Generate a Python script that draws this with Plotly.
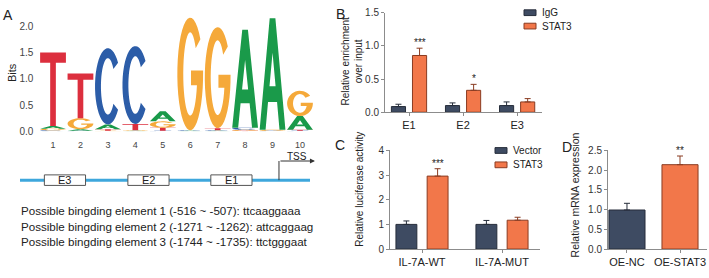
import numpy as np
import plotly.graph_objects as go

W, H = 709, 278
FONT = "Arial, Liberation Sans, sans-serif"

# ---------------- data ----------------
# Panel A: sequence logo (information content, bits) per position
logo_pos = [1, 2, 3, 4, 5, 6, 7, 8, 9, 10]
bits_A = [0.05, 0.03, 0.09, 0.01, 0.19, 0.01, 0.01, 1.86, 2.12, 0.26]
bits_C = [0.02, 0.01, 1.45, 1.48, 0.01, 0.01, 0.01, 0.04, 0.01, 0.01]
bits_G = [0.03, 0.21, 0.01, 0.01, 0.12, 2.14, 1.92, 0.02, 0.02, 0.48]
bits_T = [1.40, 0.85, 0.03, 0.12, 0.06, 0.00, 0.04, 0.01, 0.00, 0.02]
bits_ticks = [0.0, 0.5, 1.0, 1.5, 2.0]

# Panel A: promoter schematic (schematic units along the promoter line)
promoter_span = [0, 10]
promoter_elements = ["E3", "E2", "E1"]
promoter_element_pos = [1.55, 4.43, 7.29]
tss_pos = 8.93
site_no = [1, 2, 3]
site_start = [-516, -1271, -1744]
site_end = [-507, -1262, -1735]
site_seq = ["ttcaaggaaa", "attcaggaag", "ttctgggaat"]

# Panel B: ChIP
chip_regions = ["E1", "E2", "E3"]
chip_igg = [0.085, 0.10, 0.10]
chip_igg_err = [0.035, 0.04, 0.055]
chip_stat3 = [0.855, 0.33, 0.155]
chip_stat3_err = [0.11, 0.09, 0.05]
chip_sig = ["***", "*", ""]

# Panel C: luciferase
luc_groups = ["IL-7A-WT", "IL-7A-MUT"]
luc_vector = [1.0, 1.0]
luc_vector_err = [0.14, 0.16]
luc_stat3 = [2.96, 1.17]
luc_stat3_err = [0.30, 0.12]
luc_sig = ["***", ""]

# Panel D: mRNA
mrna_groups = ["OE-NC", "OE-STAT3"]
mrna_values = [0.99, 2.14]
mrna_err = [0.17, 0.22]
mrna_sig = ["", "**"]

# ---------------- styles ----------------
NAVY, NAVY_EDGE = "#3e4b62", "#262d3a"
ORANGE, ORANGE_EDGE = "#f2774a", "#8a3c22"
LETTER_COLORS = {"A": "#1a9a4a", "C": "#2c5da8", "G": "#f5a93a", "T": "#dc2f3e"}
BARGAP, GROUPGAP = 0.22, 0.33


def dom_x(a, b):
    return [a / W, b / W]


def dom_y(top, bottom):
    return [1 - bottom / H, 1 - top / H]


def px(xp, yp):
    return xp / W, 1 - yp / H


# ---------------- glyphs for the logo ----------------
def ell(rx, ry, a0, a1, n=36):
    t = np.radians(np.linspace(a0, a1, n))
    return list(zip(0.5 + rx * np.cos(t), 0.5 + ry * np.sin(t)))


def glyph(letter):
    if letter == "T":
        return [[(0, 1), (1, 1), (1, 0.86), (0.61, 0.86), (0.61, 0), (0.39, 0),
                 (0.39, 0.86), (0, 0.86)]]
    if letter == "A":
        return [[(0, 0), (0.39, 1), (0.61, 1), (1, 0), (0.77, 0), (0.675, 0.25),
                 (0.325, 0.25), (0.23, 0)],
                [(0.382, 0.39), (0.618, 0.39), (0.5, 0.69)]]
    if letter == "C":
        return [ell(0.5, 0.5, 38, 322) + ell(0.27, 0.37, 322, 38)]
    # G
    return [ell(0.5, 0.5, 38, 355) + [(1.0, 0.53), (0.53, 0.53), (0.53, 0.40)]
            + ell(0.27, 0.37, 344.3, 38)]


def letter_path(letter, pos, base, h, width=0.94):
    parts = []
    for poly in glyph(letter):
        pts = [(pos - width / 2 + u * width, base + v * h) for u, v in poly]
        parts.append("M" + " L".join(f"{x:.4f},{y:.5f}" for x, y in pts) + " Z")
    return " ".join(parts)


shapes = []
annotations = []

bits = {"A": bits_A, "C": bits_C, "G": bits_G, "T": bits_T}
for i, pos in enumerate(logo_pos):
    stack = sorted(((bits[L][i], L) for L in "ACGT"), key=lambda t: t[0])
    base = 0.0
    for h, L in stack:
        if h <= 0:
            continue
        shapes.append(dict(type="path", path=letter_path(L, pos, base, h),
                           xref="x", yref="y", fillcolor=LETTER_COLORS[L],
                           line=dict(width=0), layer="above"))
        base += h

# ---------------- promoter schematic ----------------
shapes.append(dict(type="line", xref="x2", yref="y2", x0=promoter_span[0], x1=promoter_span[1],
                   y0=0, y1=0, line=dict(color="#3ea7dc", width=3), layer="below"))
BOX_W, BOX_H = 1.42, 0.55
for name, c in zip(promoter_elements, promoter_element_pos):
    shapes.append(dict(type="rect", xref="x2", yref="y2", x0=c - BOX_W / 2, x1=c + BOX_W / 2,
                       y0=-BOX_H, y1=BOX_H, fillcolor="white",
                       line=dict(color="#555", width=1), layer="above"))
    annotations.append(dict(x=c, y=0, xref="x2", yref="y2", text=name, showarrow=False,
                            font=dict(size=11, color="#222", family=FONT)))
shapes.append(dict(type="line", xref="x2", yref="y2", x0=tss_pos, x1=tss_pos, y0=0, y1=2.0,
                   line=dict(color="#333", width=1)))
annotations.append(dict(x=promoter_span[1] + 0.17, y=2.0, ax=tss_pos, ay=2.0, xref="x2", yref="y2",
                        axref="x2", ayref="y2", text="", showarrow=True, arrowhead=2,
                        arrowsize=1, arrowwidth=1, arrowcolor="#333"))
annotations.append(dict(x=(tss_pos + promoter_span[1] + 0.17) / 2, y=2.0, xref="x2", yref="y2",
                        text="TSS", showarrow=False, yanchor="bottom", yshift=-3,
                        font=dict(size=10, color="#222", family=FONT)))

for k, (n, s, e, q) in enumerate(zip(site_no, site_start, site_end, site_seq)):
    xx, yy = px(19, 214 + 16 * k)
    annotations.append(dict(x=xx, y=yy, xref="paper", yref="paper", xanchor="left",
                            yanchor="middle", showarrow=False,
                            text=f"Possible bingding element {n} ({s} ~ {e}): {q}",
                            font=dict(size=11.6, color="#222", family=FONT)))

# ---------------- bar traces ----------------
def err(e):
    return dict(type="data", array=e, arrayminus=[0] * len(e), symmetric=False,
                thickness=1, width=3)


traces = [
    go.Bar(x=chip_regions, y=chip_igg, xaxis="x3", yaxis="y3", name="IgG",
           marker=dict(color=NAVY, line=dict(color=NAVY_EDGE, width=1)),
           error_y={**err(chip_igg_err), "color": NAVY_EDGE}, showlegend=False),
    go.Bar(x=chip_regions, y=chip_stat3, xaxis="x3", yaxis="y3", name="STAT3",
           marker=dict(color=ORANGE, line=dict(color=ORANGE_EDGE, width=1)),
           error_y={**err(chip_stat3_err), "color": ORANGE_EDGE}, showlegend=False),
    go.Bar(x=luc_groups, y=luc_vector, xaxis="x4", yaxis="y4", name="Vector",
           marker=dict(color=NAVY, line=dict(color=NAVY_EDGE, width=1)),
           error_y={**err(luc_vector_err), "color": NAVY_EDGE}, showlegend=False),
    go.Bar(x=luc_groups, y=luc_stat3, xaxis="x4", yaxis="y4", name="STAT3",
           marker=dict(color=ORANGE, line=dict(color=ORANGE_EDGE, width=1)),
           error_y={**err(luc_stat3_err), "color": ORANGE_EDGE}, showlegend=False),
]
for i, (fill, edge) in enumerate([(NAVY, NAVY_EDGE), (ORANGE, ORANGE_EDGE)]):
    traces.append(go.Bar(x=[mrna_groups[i]], y=[mrna_values[i]], xaxis="x5", yaxis="y5",
                         width=0.68, offset=-0.34,
                         marker=dict(color=fill, line=dict(color=edge, width=1)),
                         error_y={**err([mrna_err[i]]), "color": edge}, showlegend=False))

# ---------------- axes ----------------
AX_B = dict(x=(385, 542), y=(7, 111), xr=[-0.444, 2.46], yr=[0, 1.5])
AX_C = dict(x=(390, 540), y=(151, 254), xr=[-0.4, 1.475], yr=[0, 4])
AX_D = dict(x=(608, 707), y=(151, 254), xr=[-0.358, 1.509], yr=[0, 2.5])

tickfont = dict(size=10, color="#333", family=FONT)
catfont = dict(size=11, color="#222", family=FONT)
line_style = dict(showline=True, linecolor="#8c8c8c", linewidth=1, ticks="outside", ticklen=3,
                  tickcolor="#8c8c8c", tickwidth=1, showgrid=False, zeroline=False,
                  fixedrange=True)


def xcat(ax, anchor):
    return dict(domain=dom_x(*ax["x"]), range=ax["xr"], anchor=anchor, type="category",
                tickfont=catfont, **line_style)


def ylin(ax, anchor, dtick, fmt):
    return dict(domain=dom_y(*ax["y"]), range=ax["yr"], anchor=anchor, dtick=dtick,
                tickformat=fmt, tickfont=tickfont, **line_style)


def slot_shift(ax):
    px_per_cat = (ax["x"][1] - ax["x"][0]) / (ax["xr"][1] - ax["xr"][0])
    return (1 - BARGAP) / 2 * px_per_cat / 2


for cat, v, e, s in zip(chip_regions, chip_stat3, chip_stat3_err, chip_sig):
    if s:
        annotations.append(dict(x=cat, y=v + e, xref="x3", yref="y3", text=s, showarrow=False,
                                yanchor="bottom", xshift=slot_shift(AX_B), yshift=-2,
                                font=dict(size=10, color="#222", family=FONT)))
for cat, v, e, s in zip(luc_groups, luc_stat3, luc_stat3_err, luc_sig):
    if s:
        annotations.append(dict(x=cat, y=v + e, xref="x4", yref="y4", text=s, showarrow=False,
                                yanchor="bottom", xshift=slot_shift(AX_C), yshift=-2,
                                font=dict(size=10, color="#222", family=FONT)))
for cat, v, e, s in zip(mrna_groups, mrna_values, mrna_err, mrna_sig):
    if s:
        annotations.append(dict(x=cat, y=v + e, xref="x5", yref="y5", text=s, showarrow=False,
                                yanchor="bottom", yshift=-2,
                                font=dict(size=10, color="#222", family=FONT)))

# legends (swatch + label)
def legend_item(xp, yp, fill, edge, label):
    x0, y0 = px(xp, yp - 3)
    x1, y1 = px(xp + 12, yp + 3)
    shapes.append(dict(type="rect", xref="paper", yref="paper", x0=x0, x1=x1, y0=y1, y1=y0,
                       fillcolor=fill, line=dict(color=edge, width=1)))
    tx, ty = px(xp + 16, yp)
    annotations.append(dict(x=tx, y=ty, xref="paper", yref="paper", text=label,
                            showarrow=False, xanchor="left", yanchor="middle",
                            font=dict(size=10, color="#222", family=FONT)))


legend_item(524, 7, NAVY, NAVY_EDGE, "IgG")
legend_item(524, 21, ORANGE, ORANGE_EDGE, "STAT3")
legend_item(495, 151, NAVY, NAVY_EDGE, "Vector")
legend_item(495, 166, ORANGE, ORANGE_EDGE, "STAT3")

# titles & panel letters
def text_at(xp, yp, text, size, angle=0, color="#222"):
    xx, yy = px(xp, yp)
    annotations.append(dict(x=xx, y=yy, xref="paper", yref="paper", text=text,
                            showarrow=False, xanchor="center", yanchor="middle",
                            textangle=angle, font=dict(size=size, color=color, family=FONT)))


text_at(8, 9, "A", 14)
text_at(340, 8, "B", 14)
text_at(340, 145, "C", 14)
text_at(567, 147, "D", 14)
text_at(12, 70, "Bits", 11, -90)
text_at(352, 58, "Relative enrichment<br>over input", 10, -90)
text_at(360, 192, "Relative luciferase activity", 10, -90)
text_at(575, 198, "Relative mRNA expression", 10.5, -90)

layout = dict(
    width=W, height=H, margin=dict(l=0, r=0, t=0, b=0),
    paper_bgcolor="white", plot_bgcolor="white",
    font=dict(family=FONT, color="#222"),
    barmode="group", bargap=BARGAP, bargroupgap=GROUPGAP,
    showlegend=False,
    xaxis=dict(domain=dom_x(39.3, 313.7), range=[0.5, 10.5], anchor="y", tickvals=logo_pos,
               ticks="outside", ticklen=5, tickcolor="rgba(0,0,0,0)", showline=False,
               showgrid=False, zeroline=False, fixedrange=True,
               tickfont=dict(size=9, color="#444", family=FONT)),
    yaxis=dict(domain=dom_y(10, 131), range=[0, 2.2], anchor="x", tickvals=bits_ticks,
               tickformat=".1f", ticks="outside", ticklen=3, tickcolor="rgba(0,0,0,0)",
               showline=False, showgrid=False, zeroline=False, fixedrange=True,
               tickfont=dict(size=10, color="#444", family=FONT)),
    xaxis2=dict(domain=dom_x(20, 310), range=[promoter_span[0], promoter_span[1]], anchor="y2",
                visible=False, fixedrange=True),
    yaxis2=dict(domain=dom_y(152, 192), range=[-1, 3], anchor="x2", visible=False,
                fixedrange=True),
    xaxis3=xcat(AX_B, "y3"), yaxis3=ylin(AX_B, "x3", 0.5, ".1f"),
    xaxis4=xcat(AX_C, "y4"), yaxis4=ylin(AX_C, "x4", 1, "d"),
    xaxis5=xcat(AX_D, "y5"), yaxis5=ylin(AX_D, "x5", 0.5, ".1f"),
    shapes=shapes, annotations=annotations,
)

fig = go.Figure(data=traces, layout=layout)
fig.write_html("out.html")
